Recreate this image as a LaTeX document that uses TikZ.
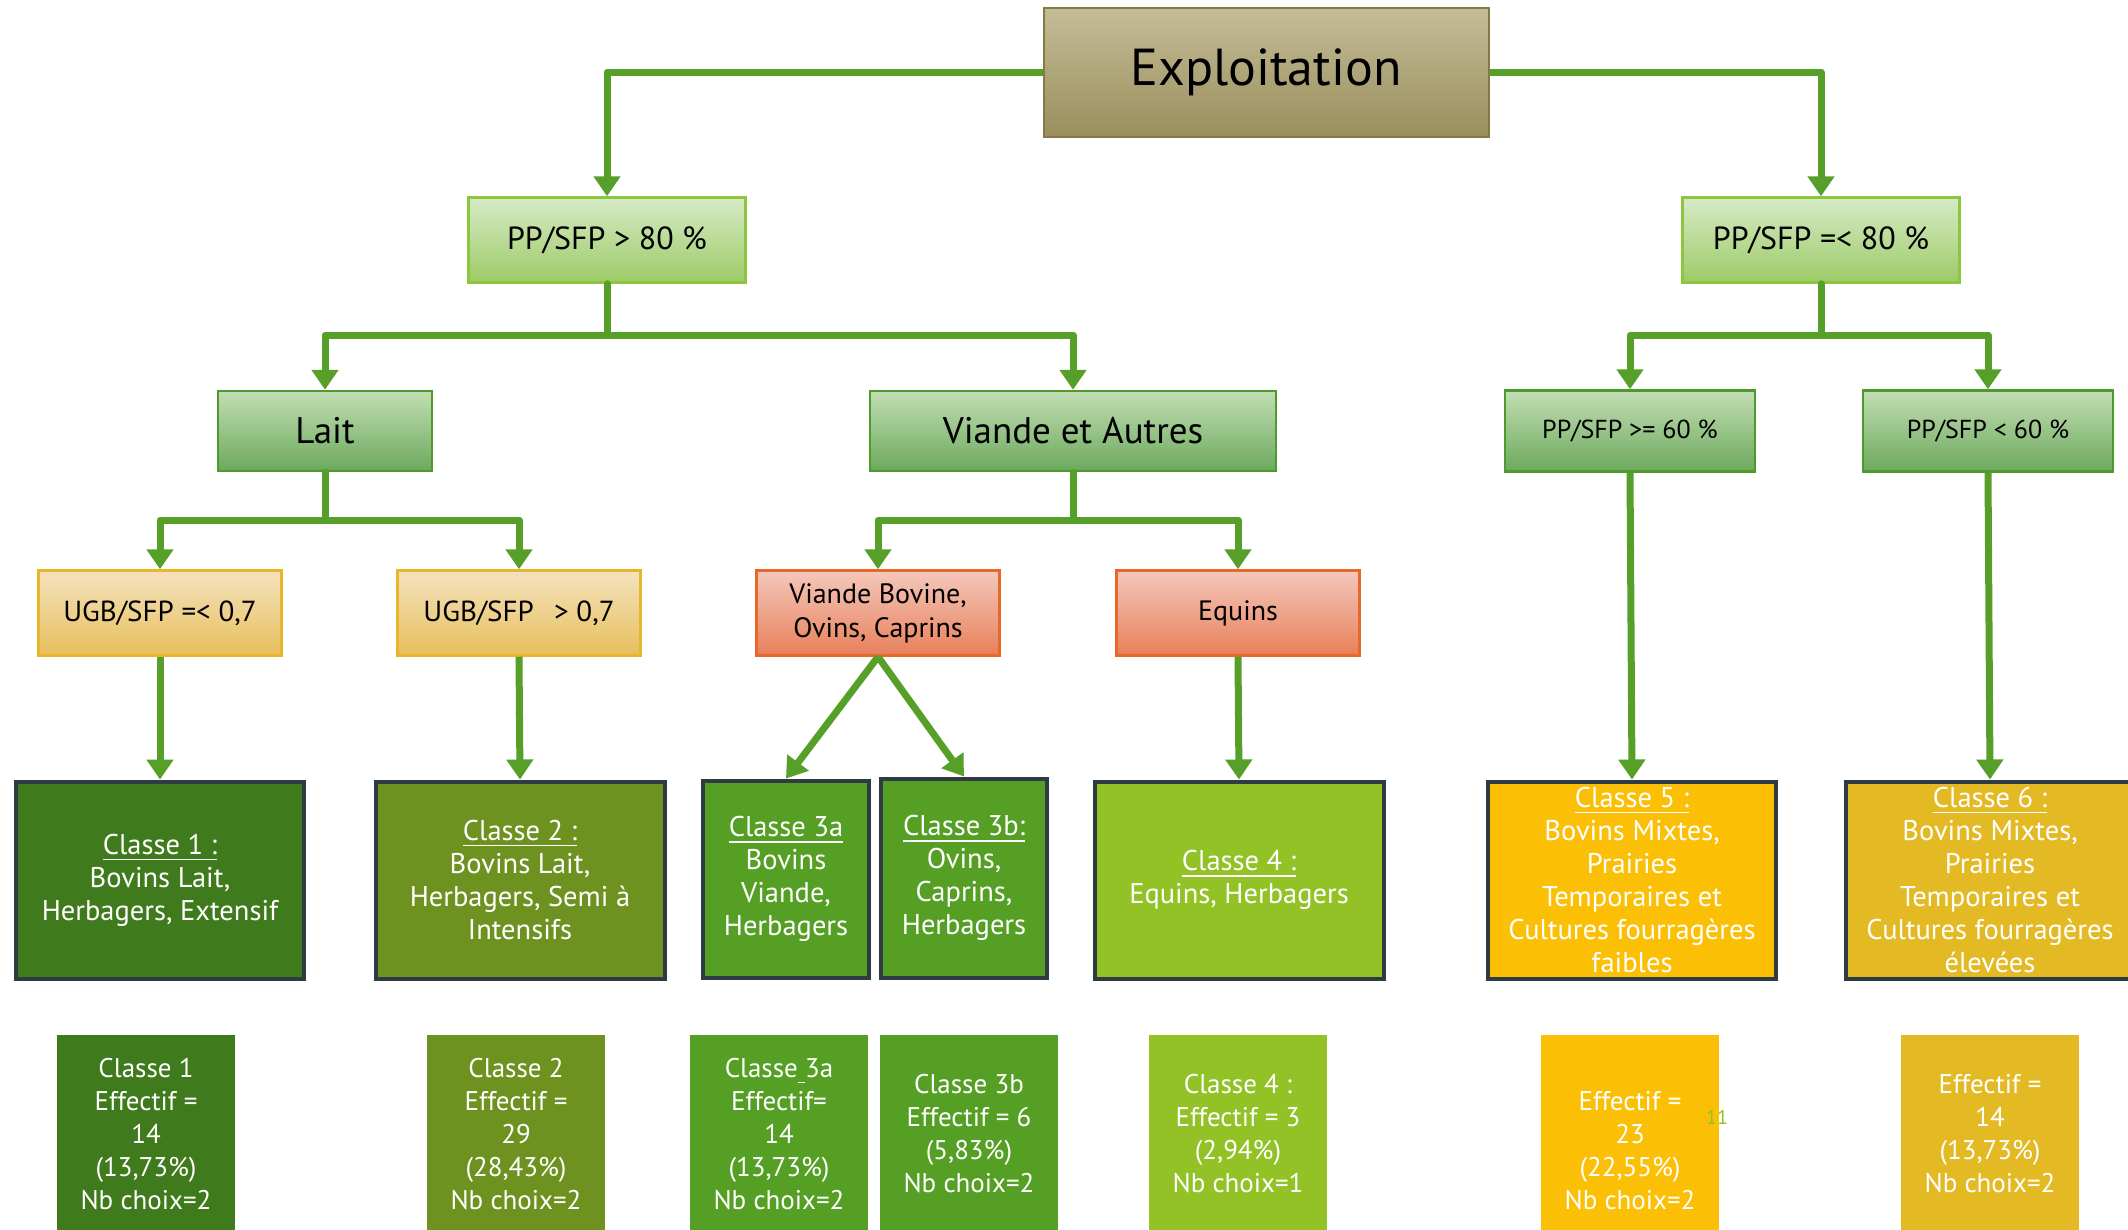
\documentclass[tikz,border=0pt]{standalone}
\usepackage{fontspec}
\setmainfont{PT Sans}
\usetikzlibrary{arrows.meta,calc}
\definecolor{lnG}{HTML}{56A02A}
\definecolor{exT}{HTML}{C4BD98}
\definecolor{exB}{HTML}{9A8E5C}
\definecolor{exD}{HTML}{857A45}
\definecolor{lgT}{HTML}{D6EAC6}
\definecolor{lgB}{HTML}{9DCB66}
\definecolor{lgD}{HTML}{8CC63E}
\definecolor{mgT}{HTML}{C2DEB4}
\definecolor{mgB}{HTML}{6CA95C}
\definecolor{mgD}{HTML}{4E9A2E}
\definecolor{ugT}{HTML}{F4E2BE}
\definecolor{ugB}{HTML}{E7BF5C}
\definecolor{ugD}{HTML}{E9B52C}
\definecolor{rdT}{HTML}{F4C8BC}
\definecolor{rdB}{HTML}{E8805A}
\definecolor{rdD}{HTML}{E8682A}
\definecolor{cA}{HTML}{3F7A1C}
\definecolor{cB}{HTML}{6E9220}
\definecolor{cC}{HTML}{55A024}
\definecolor{cD}{HTML}{92C226}
\definecolor{cE}{HTML}{FBBF05}
\definecolor{cF}{HTML}{E3B924}
\definecolor{cBd}{HTML}{2E3B42}
\newsavebox{\ulinbox}
\newcommand\ulin[1]{\sbox{\ulinbox}{#1}\rlap{\rule[-6pt]{\wd\ulinbox}{1.6pt}}\usebox{\ulinbox}}
\begin{document}
\begin{tikzpicture}[x=1pt,y=-1pt,
  boxbase/.style={inner sep=0pt, align=center},
  exbox/.style={boxbase, draw=exD, line width=2pt, top color=exT, bottom color=exB, minimum width=445, minimum height=129, font=\fontsize{52}{60}\selectfont},
  lgbox/.style={boxbase, draw=lgD, line width=2.5pt, top color=lgT, bottom color=lgB, minimum width=277, minimum height=85, font=\fontsize{32}{38}\selectfont},
  mgbox/.style={boxbase, draw=mgD, line width=2.5pt, top color=mgT, bottom color=mgB, minimum height=80},
  ugbox/.style={boxbase, draw=ugD, line width=2.5pt, top color=ugT, bottom color=ugB, minimum width=243, minimum height=85, font=\fontsize{29}{34}\selectfont},
  rdbox/.style={boxbase, draw=rdD, line width=2.5pt, top color=rdT, bottom color=rdB, minimum width=243, minimum height=85, font=\fontsize{28}{34}\selectfont},
  clbox/.style={boxbase, draw=cBd, line width=4pt, text=white, minimum height=197, font=\fontsize{28.5}{33}\selectfont},
  efbox/.style={boxbase, text=white, minimum width=178, minimum height=198, font=\fontsize{27}{33}\selectfont},
  conn/.style={draw=lnG, line width=7pt, line join=round, -{Triangle[width=26pt,length=20pt]}},
  plain/.style={draw=lnG, line width=7pt, line cap=round}
]
\useasboundingbox (0,0) rectangle (2128,1229);
\fill[white] (0,0) rectangle (2128,1229);

% top
\node[exbox] (expl) at (1266,72) {Exploitation};
\node[lgbox] (pp80) at (607,240) {PP/SFP > 80 \%};
\node[lgbox] (pp80b) at (1821,240) {PP/SFP =< 80 \%};

% level 2
\node[mgbox, minimum width=214, font=\fontsize{37}{44}\selectfont] (lait) at (325,431) {Lait};
\node[mgbox, minimum width=406, font=\fontsize{37}{44}\selectfont] (viande) at (1073,431) {Viande et Autres};
\node[mgbox, minimum width=250, minimum height=81, font=\fontsize{26}{30}\selectfont] (pp60a) at (1630,431) {PP/SFP >= 60 \%};
\node[mgbox, minimum width=250, minimum height=81, font=\fontsize{26}{30}\selectfont] (pp60b) at (1988,431) {PP/SFP < 60 \%};

% level 3
\node[ugbox] (ugb1) at (160,613) {UGB/SFP =< 0,7};
\node[ugbox] (ugb2) at (519,613) {UGB/SFP\hspace{0.7em}> 0,7};
\node[rdbox] (vb) at (878,613) {Viande Bovine,\\Ovins, Caprins};
\node[rdbox] (equ) at (1238,613) {Equins};

% classes
\node[clbox, fill=cA, minimum width=288] (c1) at (160,880) {\ulin{Classe 1 :}\\Bovins Lait,\\Herbagers, Extensif};
\node[clbox, fill=cB, minimum width=289] (c2) at (520,880) {\ulin{Classe 2 :}\\Bovins Lait,\\Herbagers, Semi à\\Intensifs};
\node[clbox, fill=cC, minimum width=166] (c3a) at (786,879) {\ulin{Classe 3a}\\Bovins\\Viande,\\Herbagers};
\node[clbox, fill=cC, minimum width=166, minimum height=199] (c3b) at (964,878) {\ulin{Classe 3b:}\\Ovins,\\Caprins,\\Herbagers};
\node[clbox, fill=cD, minimum width=289] (c4) at (1239,880) {\ulin{Classe 4 :}\\Equins, Herbagers};
\node[clbox, fill=cE, minimum width=288] (c5) at (1632,880) {\ulin{Classe 5 :}\\Bovins Mixtes,\\Prairies\\Temporaires et\\Cultures fourragères\\faibles};
\node[clbox, fill=cF, minimum width=288] (c6) at (1990,880) {\ulin{Classe 6 :}\\Bovins Mixtes,\\Prairies\\Temporaires et\\Cultures fourragères\\élevées};

% effectifs
\node[efbox, fill=cA] (b1) at (146,1134) {Classe 1\\Effectif =\\14\\(13,73\%)\\Nb choix=2};
\node[efbox, fill=cB] (b2) at (516,1134) {Classe 2\\Effectif =\\29\\(28,43\%)\\Nb choix=2};
\node[efbox, fill=cC] (b3a) at (779,1134) {Classe\ulin{\ }3a\\Effectif=\\14\\(13,73\%)\\Nb choix=2};
\node[efbox, fill=cC] (b3b) at (969,1134) {Classe 3b\\Effectif = 6\\(5,83\%)\\Nb choix=2};
\node[efbox, fill=cD] (b4) at (1238,1134) {Classe 4 :\\Effectif = 3\\(2,94\%)\\Nb choix=1};
\node[efbox, fill=cE, minimum height=232] (b5) at (1630,1151) {Effectif =\\23\\(22,55\%)\\Nb choix=2};
\node[efbox, fill=cF] (b6) at (1990,1134) {Effectif =\\14\\(13,73\%)\\Nb choix=2};
\node[text=cD, font=\fontsize{20}{24}\selectfont, inner sep=0pt] (pnum) at (1717,1117) {11};

% connectors
\draw[conn] (expl.west) -| (pp80.north);
\draw[conn] (expl.east) -| (pp80b.north);

\coordinate (j1) at (607,335);
\coordinate (j2) at (1821,335);
\coordinate (j3) at (325,520);
\coordinate (j4) at (1073,520);
\draw[plain] (pp80.south) -- (j1);
\draw[conn] (j1) -| (lait.north);
\draw[conn] (j1) -| (viande.north);
\draw[plain] (pp80b.south) -- (j2);
\draw[conn] (j2) -| (pp60a.north);
\draw[conn] (j2) -| (pp60b.north);
\draw[plain] (lait.south) -- (j3);
\draw[conn] (j3) -| (ugb1.north);
\draw[conn] (j3) -| (ugb2.north);
\draw[plain] (viande.south) -- (j4);
\draw[conn] (j4) -| (vb.north);
\draw[conn] (j4) -| (equ.north);

\draw[conn] (ugb1.south) -- (c1.north);
\draw[conn] (ugb2.south) -- (c2.north);
\draw[conn] (vb.south) -- (c3a.north);
\draw[conn] (vb.south) -- (c3b.north);
\draw[conn] (equ.south) -- (c4.north);
\draw[conn] (pp60a.south) -- (c5.north);
\draw[conn] (pp60b.south) -- (c6.north);
\end{tikzpicture}
\end{document}
